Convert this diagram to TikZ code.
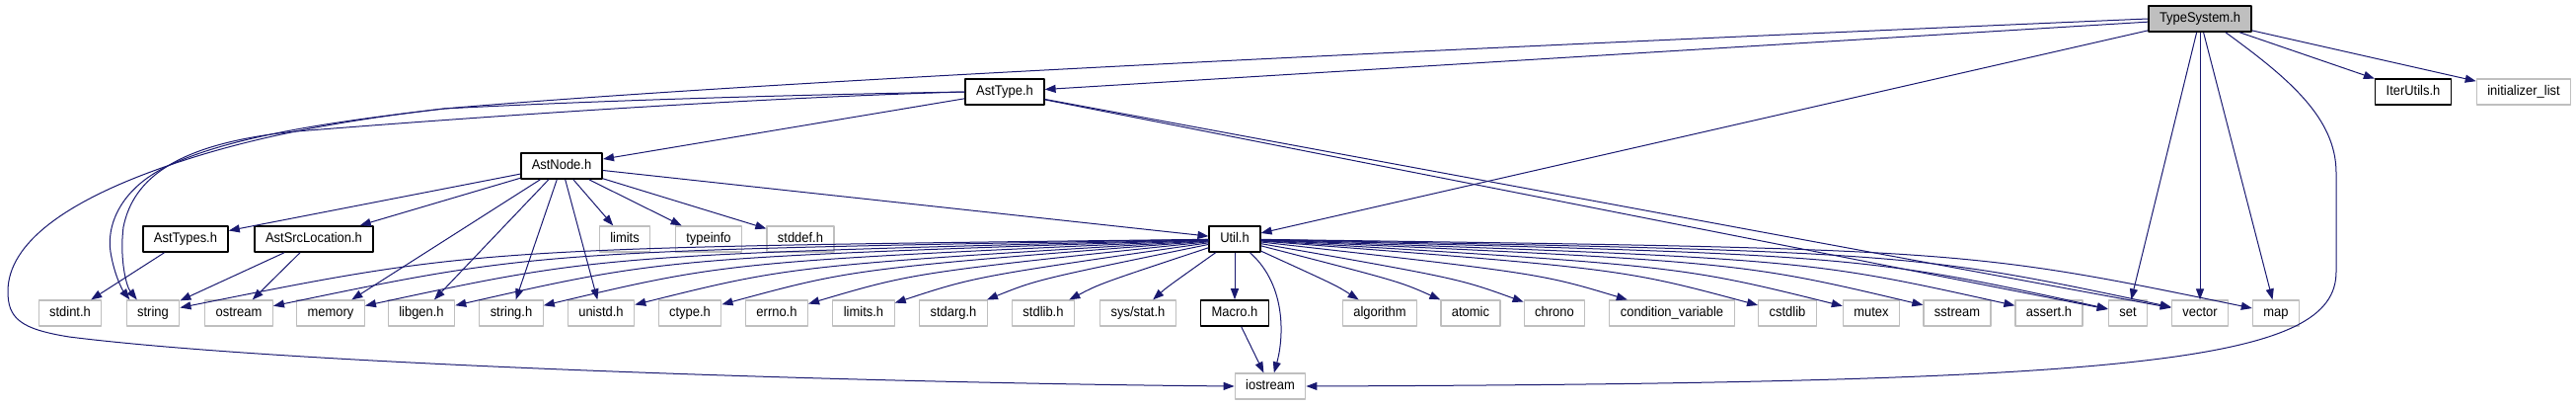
\documentclass[tikz,border=0pt]{standalone}
\usepackage{fontspec}
\setmainfont{Liberation Sans}[FakeStretch=0.925]
\usetikzlibrary{arrows.meta}
\definecolor{edgeblue}{RGB}{25,25,112}
\definecolor{sysgray}{RGB}{191,191,191}
\tikzset{
    file/.style={
        draw, fill=white, line width=1.2pt,
        minimum height=26pt, inner xsep=11pt, inner ysep=0pt,
        text height=10pt, text depth=3pt,
        font=\fontsize{14}{16}\selectfont
    },
    hdr/.style={file, draw=black, line width=1.6pt},
    sys/.style={file, draw=sysgray},
    root/.style={file, draw=black, line width=1.6pt, fill=sysgray},
    incl/.style={
        draw=edgeblue, line width=1pt,
        -{Triangle[length=11pt,width=8pt]}
    }
}

\begin{document}
\begin{tikzpicture}[x=1pt,y=1pt,line join=round]

    \useasboundingbox (0,0) rectangle (2610,-411);

% --- upper levels ---
    \node[root] (ts)        at (2229,-19)  {TypeSystem.h};
    \node[hdr]  (asttype)   at (1018,-93)  {AstType.h};
    \node[hdr]  (iterutils) at (2445,-93)  {IterUtils.h};
    \node[sys]  (initlist)  at (2557,-93)  {initializer\_list};
    \node[hdr]  (astnode)   at (569,-168)  {AstNode.h};

% --- middle row ---
    \node[hdr] (asttypes) at (188,-242)  {AstTypes.h};
    \node[hdr] (astsrc)   at (318,-242)  {AstSrcLocation.h};
    \node[sys] (limits)   at (633,-242)  {limits};
    \node[sys] (typeinfo) at (718,-242)  {typeinfo};
    \node[sys] (stddef)   at (811,-242)  {stddef.h};
    \node[hdr] (util)     at (1251,-242) {Util.h};

% --- bottom row ---
    \node[sys] (stdint)    at (71,-317)   {stdint.h};
    \node[sys] (string)    at (155,-317)  {string};
    \node[sys] (ostream)   at (242,-317)  {ostream};
    \node[sys] (memory)    at (335,-317)  {memory};
    \node[sys] (libgen)    at (427,-317)  {libgen.h};
    \node[sys] (stringh)   at (518,-317)  {string.h};
    \node[sys] (unistd)    at (609,-317)  {unistd.h};
    \node[sys] (ctype)     at (699,-317)  {ctype.h};
    \node[sys] (errno)     at (787,-317)  {errno.h};
    \node[sys] (limitsh)   at (875,-317)  {limits.h};
    \node[sys] (stdarg)    at (966,-317)  {stdarg.h};
    \node[sys] (stdlib)    at (1057,-317) {stdlib.h};
    \node[sys] (sysstat)   at (1153,-317) {sys/stat.h};
    \node[hdr] (macro)     at (1251,-317) {Macro.h};
    \node[sys] (algorithm) at (1398,-317) {algorithm};
    \node[sys] (atomic)    at (1490,-317) {atomic};
    \node[sys] (chrono)    at (1575,-317) {chrono};
    \node[sys] (condvar)   at (1694,-317) {condition\_variable};
    \node[sys] (cstdlib)   at (1811,-317) {cstdlib};
    \node[sys] (mutex)     at (1896,-317) {mutex};
    \node[sys] (sstream)   at (1983,-317) {sstream};
    \node[sys] (asserth)   at (2076,-317) {assert.h};
    \node[sys] (set)       at (2156,-317) {set};
    \node[sys] (vector)    at (2229,-317) {vector};
    \node[sys] (map)       at (2306,-317) {map};

    \node[sys] (iostream) at (1287,-391) {iostream};

% TypeSystem.h includes
    \path (ts) edge[incl] (asttype)
               edge[incl] (util)
               edge[incl] (set)
               edge[incl] (vector)
               edge[incl] (map)
               edge[incl] (iterutils)
               edge[incl] (initlist);
    \draw[incl] (ts.-28) .. controls (2320,-80) and (2367,-120) .. (2367,-175)
        -- (2367,-275) .. controls (2367,-365) and (2180,-388) .. (iostream.east);
    \draw[incl] (ts.west) .. controls (1500,-48) and (800,-80) .. (450,-110)
        .. controls (320,-125) and (230,-140) .. (170,-168)
        .. controls (120,-192) and (108,-230) .. (112,-255)
        .. controls (116,-280) and (125,-295) .. (string.150);

% AstType.h includes
    \path (asttype) edge[incl] (astnode)
                    edge[incl] (set)
                    edge[incl] (vector);
    \draw[incl] (asttype.west) .. controls (800,-98) and (550,-113) .. (300,-133)
        .. controls (180,-145) and (135,-180) .. (125,-230)
        .. controls (121,-262) and (128,-290) .. (string.140);
    \draw[incl] (asttype.west) .. controls (800,-96) and (600,-102) .. (450,-110)
        .. controls (320,-125) and (230,-145) .. (150,-175)
        .. controls (70,-205) and (8,-245) .. (8,-295)
        .. controls (8,-322) and (20,-333) .. (70,-341)
        .. controls (300,-370) and (900,-388) .. (iostream.west);

% AstNode.h includes
    \path (astnode) edge[incl] (asttypes)
                    edge[incl] (astsrc)
                    edge[incl] (memory)
                    edge[incl] (libgen)
                    edge[incl] (stringh)
                    edge[incl] (unistd)
                    edge[incl] (limits)
                    edge[incl] (typeinfo)
                    edge[incl] (stddef)
                    edge[incl] (util);

    \draw[incl] (asttypes) -- (stdint);
    \path (astsrc) edge[incl] (string)
                   edge[incl] (ostream);

% Util.h includes (one control point per fan edge)
    \foreach \t/\cx/\cy in {string/484/-251, ostream/545/-254, memory/610/-258,
            libgen/674/-261, stringh/738/-265, unistd/802/-269, ctype/865/-272,
            errno/926/-276, limitsh/988/-280, stdarg/1051/-283, stdlib/1115/-287,
            sysstat/1182/-291, algorithm/1354/-289, atomic/1418/-285,
            chrono/1478/-282, condvar/1561/-277, cstdlib/1643/-272,
            mutex/1702/-269, sstream/1763/-265, asserth/1828/-262,
            set/1884/-258, vector/1936/-255, map/1990/-252}
        \draw[incl] (util) .. controls (\cx,\cy) .. (\t);
    \draw[incl] (util) -- (macro);
    \draw[incl] (util) .. controls (1305,-290) and (1300,-345) .. (iostream);

    \draw[incl] (macro) -- (iostream);

  \end{tikzpicture}
\end{document}
